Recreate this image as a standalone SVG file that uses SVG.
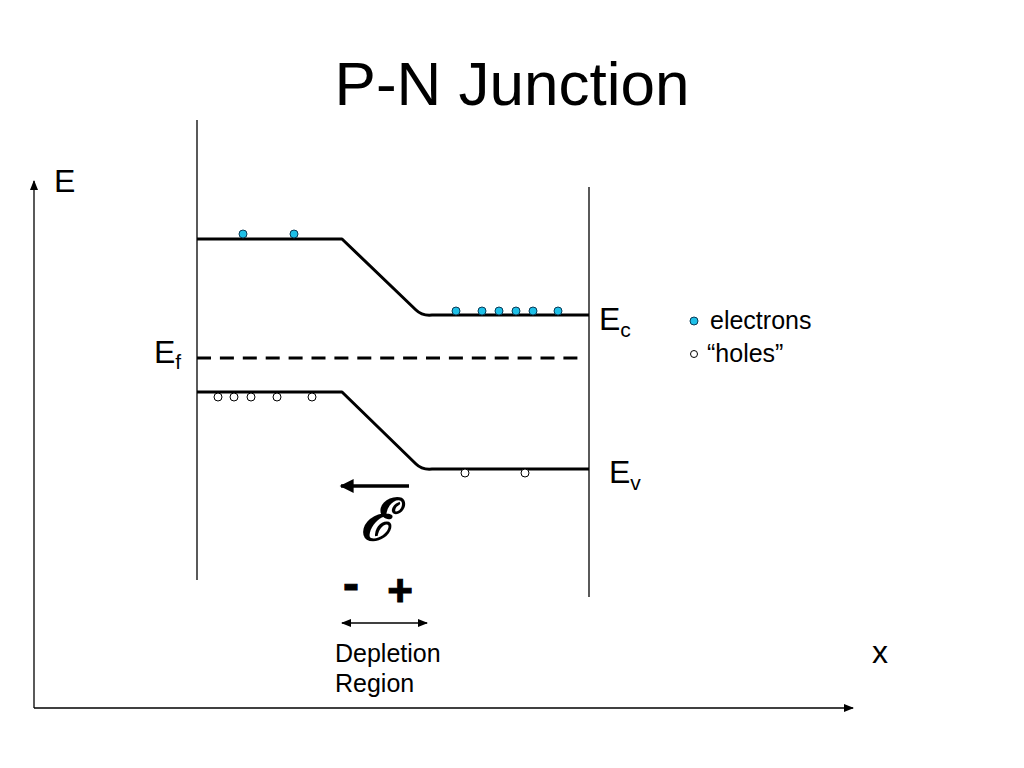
<svg xmlns="http://www.w3.org/2000/svg" width="1024" height="768" viewBox="0 0 1024 768">
<defs>
<style>
.t{font-family:"Liberation Sans",Arial,sans-serif;fill:#000}
.band{fill:none;stroke:#000;stroke-width:3;stroke-linejoin:round}
.thin{fill:none;stroke:#000;stroke-width:1.3}
.el{fill:#1ec0e8;stroke:#0a3a55;stroke-width:1}
.ho{fill:#fff;stroke:#000;stroke-width:1}
</style>
<marker id="ah" viewBox="0 0 10 10" refX="9" refY="5" markerWidth="10" markerHeight="10" markerUnits="userSpaceOnUse" orient="auto-start-reverse">
<path d="M0,1 L10,5 L0,9 Z" fill="#000"/>
</marker>
<marker id="ahb" viewBox="0 0 10 10" refX="9" refY="5" markerWidth="5" markerHeight="4" orient="auto">
<path d="M0,0 L10,5 L0,10 Z" fill="#000"/>
</marker>
</defs>
<rect width="1024" height="768" fill="#fff"/>

<text class="t" x="512" y="105" font-size="62" text-anchor="middle">P-N Junction</text>

<g id="connectors">
<line class="thin" x1="34" y1="708" x2="34" y2="181" marker-end="url(#ah)"/>
<line class="thin" x1="34" y1="708" x2="853" y2="708" marker-end="url(#ah)"/>
<line class="thin" x1="197" y1="120" x2="197" y2="580"/>
<line class="thin" x1="589" y1="187" x2="589" y2="597"/>
<line x1="409" y1="486" x2="341" y2="486" stroke="#000" stroke-width="3.5" marker-end="url(#ahb)"/>
<line class="thin" x1="342" y1="623" x2="427" y2="623" stroke-width="1.6" marker-start="url(#ah)" marker-end="url(#ah)"/>
</g>

<g id="conduction-band">
<path class="band" d="M197,239 L342,239 L416,310 Q422,316 432,315 L589,315"/>
<circle class="el" cx="243" cy="234" r="4"/>
<circle class="el" cx="294" cy="234" r="4"/>
<circle class="el" cx="456" cy="311" r="4"/>
<circle class="el" cx="482" cy="311" r="4"/>
<circle class="el" cx="499" cy="311" r="4"/>
<circle class="el" cx="516" cy="311" r="4"/>
<circle class="el" cx="533" cy="311" r="4"/>
<circle class="el" cx="558" cy="311" r="4"/>
</g>

<g id="valence-band">
<path class="band" d="M197,392 L342,392 L416,464 Q422,470 432,469 L589,469"/>
<circle class="ho" cx="218" cy="397" r="4"/>
<circle class="ho" cx="234" cy="397" r="4"/>
<circle class="ho" cx="251" cy="397" r="4"/>
<circle class="ho" cx="277" cy="397" r="4"/>
<circle class="ho" cx="312" cy="397" r="4"/>
<circle class="ho" cx="465" cy="473" r="4"/>
<circle class="ho" cx="525" cy="473" r="4"/>
</g>

<g id="fermi-level">
<line x1="197" y1="358" x2="580" y2="358" stroke="#000" stroke-width="3" stroke-dasharray="14 8.9"/>
</g>

<g id="labels">
<text class="t" x="54" y="192" font-size="32">E</text>
<text class="t" x="154" y="363" font-size="32">E<tspan font-size="21" dy="6">f</tspan></text>
<text class="t" x="599" y="330" font-size="32">E<tspan font-size="21" dy="7">c</tspan></text>
<text class="t" x="609" y="483" font-size="32">E<tspan font-size="21" dy="7">v</tspan></text>
<text class="t" x="872" y="663" font-size="32">x</text>
<text x="377" y="540" font-size="58" font-family="DejaVu Serif,serif" font-style="italic" font-weight="bold" text-anchor="middle">ℰ</text>
<text class="t" x="351" y="600" font-size="48" font-weight="bold" text-anchor="middle" stroke="#000" stroke-width="1">-</text>
<text class="t" x="400" y="606" font-size="44" font-weight="bold" text-anchor="middle" stroke="#000" stroke-width="1">+</text>
<text class="t" x="335" y="662" font-size="25">Depletion</text>
<text class="t" x="335" y="692" font-size="25">Region</text>
</g>

<g id="legend">
<circle class="el" cx="694" cy="321" r="4"/>
<text class="t" x="710" y="329" font-size="25">electrons</text>
<circle class="ho" cx="694" cy="354" r="3.5"/>
<text class="t" x="707" y="362" font-size="25">“holes”</text>
</g>
</svg>
